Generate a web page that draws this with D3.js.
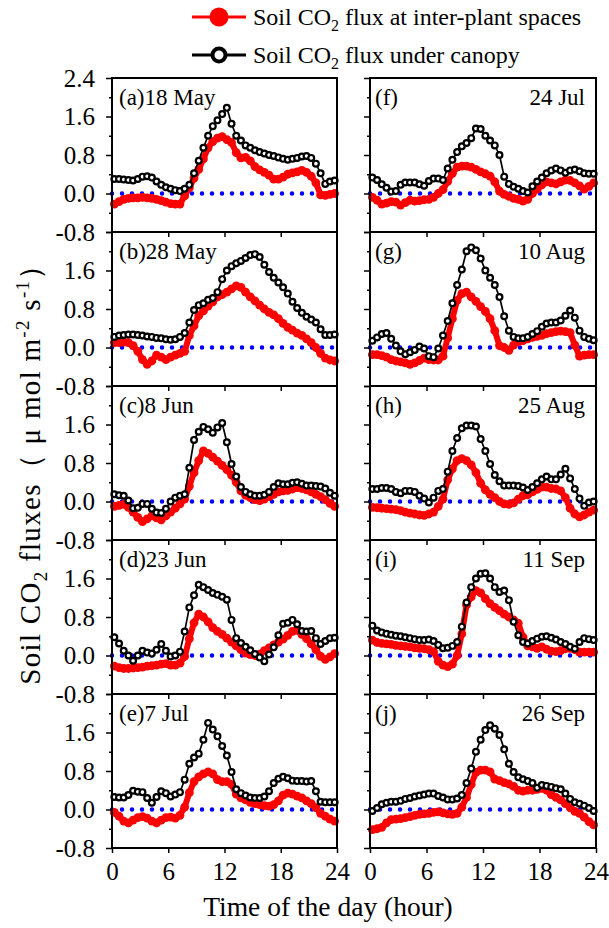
<!DOCTYPE html>
<html><head><meta charset="utf-8">
<script src="https://cdn.jsdelivr.net/npm/d3@7"></script>
<style>
body{margin:0;background:#fff}
svg{display:block}
text{font-family:"Liberation Serif","Times New Roman",serif;fill:#000}
</style>
</head><body>
<svg id="c" width="609" height="928"></svg>
<script>
// ---------- data ----------
const hours = [0.25,0.75,1.25,1.75,2.25,2.75,3.25,3.75,4.25,4.75,5.25,5.75,6.25,6.75,7.25,7.75,
  8.25,8.75,9.25,9.75,10.25,10.75,11.25,11.75,12.25,12.75,13.25,13.75,14.25,14.75,15.25,15.75,
  16.25,16.75,17.25,17.75,18.25,18.75,19.25,19.75,20.25,20.75,21.25,21.75,22.25,22.75,23.25,23.75];

const panelLetters = ["(a)","(b)","(c)","(d)","(e)","(f)","(g)","(h)","(i)","(j)"];
const panelDates = ["18 May","28 May","8 Jun","23 Jun","7 Jul","24 Jul","10 Aug","25 Aug","11 Sep","26 Sep"];
const xTickValues = [0,6,12,18,24];
const yTickValues = [-0.8,0.0,0.8,1.6,2.4];
const yMinorTicks = [-0.4,0.4,1.2,2.0];
const seriesNames = ["Soil CO2 flux at inter-plant spaces","Soil CO2 flux under canopy"];

// Soil CO2 flux at inter-plant spaces (red)
const interA = [-0.22,-0.17,-0.12,-0.10,-0.09,-0.09,-0.08,-0.09,-0.10,-0.12,-0.15,-0.18,-0.21,-0.22,-0.22,-0.05,0.12,0.32,0.50,0.72,0.95,1.08,1.15,1.18,1.12,1.06,0.85,0.74,0.75,0.68,0.56,0.49,0.44,0.38,0.30,0.30,0.34,0.40,0.43,0.45,0.48,0.44,0.36,0.22,-0.03,-0.04,-0.02,0.0];
const interB = [0.10,0.10,0.11,0.10,0.04,-0.08,-0.25,-0.35,-0.28,-0.16,-0.20,-0.25,-0.20,-0.16,-0.12,-0.08,0.25,0.45,0.66,0.76,0.86,0.95,1.05,1.10,1.15,1.22,1.28,1.25,1.15,1.05,0.97,0.88,0.80,0.73,0.68,0.60,0.50,0.42,0.36,0.30,0.25,0.18,0.10,0.0,-0.12,-0.22,-0.26,-0.28];
const interC = [-0.10,-0.08,-0.06,-0.12,-0.22,-0.33,-0.42,-0.36,-0.30,-0.34,-0.38,-0.30,-0.22,-0.14,-0.05,0.05,0.32,0.60,0.85,1.05,1.00,0.92,0.84,0.75,0.66,0.55,0.40,0.22,0.13,0.08,0.04,0.02,0.05,0.10,0.15,0.20,0.22,0.23,0.26,0.29,0.27,0.24,0.20,0.15,0.10,0.04,-0.04,-0.10];
const interD = [-0.22,-0.25,-0.27,-0.27,-0.26,-0.25,-0.24,-0.22,-0.21,-0.20,-0.18,-0.17,-0.20,-0.20,-0.16,-0.02,0.35,0.68,0.86,0.80,0.70,0.58,0.50,0.44,0.36,0.28,0.20,0.12,0.05,0.02,0.0,0.03,0.10,0.16,0.22,0.28,0.34,0.42,0.50,0.52,0.44,0.35,0.24,0.12,-0.02,-0.08,-0.03,0.04];
const interE = [-0.06,-0.14,-0.24,-0.28,-0.22,-0.17,-0.15,-0.18,-0.24,-0.28,-0.22,-0.17,-0.16,-0.18,-0.12,0.05,0.35,0.58,0.68,0.74,0.78,0.74,0.62,0.58,0.58,0.52,0.32,0.24,0.20,0.15,0.12,0.10,0.08,0.07,0.10,0.18,0.30,0.34,0.32,0.28,0.24,0.18,0.12,0.04,-0.08,-0.14,-0.20,-0.24];
const interF = [-0.08,-0.14,-0.22,-0.20,-0.17,-0.18,-0.24,-0.19,-0.14,-0.16,-0.15,-0.13,-0.12,-0.08,0.0,0.08,0.25,0.42,0.55,0.57,0.57,0.55,0.50,0.45,0.41,0.36,0.24,0.05,-0.02,-0.06,-0.10,-0.12,-0.16,-0.12,0.0,0.09,0.18,0.24,0.22,0.20,0.24,0.28,0.27,0.22,0.16,0.09,0.15,0.22];
const interG = [-0.15,-0.15,-0.17,-0.20,-0.25,-0.28,-0.30,-0.32,-0.35,-0.32,-0.27,-0.22,-0.25,-0.26,-0.26,-0.18,0.20,0.60,0.98,1.12,1.15,1.05,0.96,0.85,0.75,0.60,0.35,0.04,0.0,-0.06,0.05,0.12,0.14,0.18,0.21,0.23,0.25,0.29,0.31,0.33,0.34,0.33,0.31,0.05,-0.18,-0.16,-0.15,-0.15];
const interH = [-0.12,-0.13,-0.14,-0.15,-0.16,-0.17,-0.19,-0.22,-0.24,-0.26,-0.28,-0.29,-0.26,-0.22,-0.10,0.05,0.45,0.68,0.85,0.89,0.85,0.76,0.60,0.38,0.24,0.15,0.08,0.0,-0.05,-0.06,-0.03,0.05,0.12,0.14,0.20,0.25,0.30,0.30,0.27,0.26,0.22,0.08,-0.14,-0.26,-0.32,-0.28,-0.22,-0.18];
const interI = [0.32,0.27,0.25,0.24,0.23,0.21,0.20,0.19,0.18,0.16,0.15,0.14,0.12,0.08,-0.12,-0.20,-0.23,-0.18,0.0,0.45,1.05,1.22,1.35,1.30,1.18,1.08,1.00,0.93,0.86,0.80,0.74,0.67,0.38,0.20,0.18,0.15,0.18,0.13,0.09,0.08,0.10,0.14,0.15,0.12,0.07,0.07,0.07,0.07];
const interJ = [-0.42,-0.40,-0.37,-0.28,-0.21,-0.20,-0.19,-0.17,-0.15,-0.12,-0.10,-0.09,-0.08,-0.06,-0.05,-0.07,-0.09,-0.10,-0.08,0.05,0.25,0.52,0.77,0.82,0.82,0.78,0.63,0.60,0.56,0.53,0.48,0.40,0.38,0.40,0.40,0.42,0.44,0.40,0.31,0.25,0.20,0.12,0.04,-0.04,-0.08,-0.16,-0.25,-0.32];

// Soil CO2 flux under canopy (black open circles)
const canopyA = [0.30,0.30,0.29,0.28,0.27,0.30,0.35,0.36,0.33,0.25,0.18,0.13,0.10,0.07,0.05,0.10,0.18,0.42,0.68,0.95,1.20,1.40,1.52,1.65,1.78,1.45,1.20,1.10,1.00,0.95,0.90,0.86,0.83,0.80,0.78,0.75,0.72,0.70,0.72,0.74,0.77,0.78,0.74,0.62,0.42,0.20,0.25,0.27];
const canopyB = [0.22,0.25,0.26,0.27,0.27,0.26,0.25,0.23,0.22,0.20,0.19,0.17,0.16,0.17,0.22,0.30,0.52,0.78,0.88,0.92,0.99,1.03,1.15,1.42,1.60,1.69,1.75,1.80,1.86,1.92,1.94,1.88,1.72,1.57,1.45,1.35,1.25,1.12,0.95,0.82,0.72,0.64,0.58,0.52,0.38,0.26,0.26,0.27];
const canopyC = [0.15,0.13,0.12,0.02,-0.14,-0.13,-0.05,-0.05,-0.15,-0.23,-0.24,-0.15,0.0,0.08,0.12,0.15,0.70,1.28,1.45,1.55,1.50,1.43,1.54,1.63,1.23,0.78,0.52,0.30,0.20,0.15,0.12,0.12,0.14,0.20,0.30,0.38,0.36,0.36,0.39,0.40,0.37,0.33,0.33,0.32,0.31,0.27,0.18,0.12];
const canopyD = [0.38,0.25,0.10,0.0,-0.11,0.0,0.10,0.06,0.04,0.12,0.24,0.10,-0.02,0.0,0.08,0.50,1.00,1.25,1.47,1.42,1.36,1.30,1.26,1.22,1.16,0.74,0.36,0.26,0.18,0.11,0.03,-0.04,-0.12,0.02,0.17,0.42,0.66,0.68,0.74,0.65,0.51,0.50,0.51,0.36,0.24,0.30,0.36,0.37];
const canopyE = [0.26,0.25,0.25,0.30,0.39,0.37,0.36,0.24,0.14,0.26,0.38,0.34,0.27,0.31,0.36,0.62,0.95,1.08,1.16,1.45,1.80,1.66,1.52,1.32,1.12,0.78,0.42,0.34,0.29,0.25,0.24,0.24,0.27,0.38,0.55,0.64,0.68,0.65,0.60,0.59,0.59,0.58,0.59,0.38,0.16,0.15,0.15,0.15];
const canopyF = [0.33,0.28,0.19,0.12,0.04,0.05,0.18,0.23,0.23,0.23,0.19,0.16,0.26,0.31,0.31,0.28,0.52,0.70,0.86,0.98,1.05,1.15,1.35,1.34,1.20,1.10,1.00,0.80,0.35,0.20,0.14,0.10,0.05,0.02,0.15,0.25,0.33,0.42,0.48,0.52,0.48,0.43,0.48,0.50,0.46,0.42,0.41,0.41];
const canopyG = [0.14,0.21,0.28,0.30,0.18,0.04,-0.08,-0.14,-0.10,-0.05,0.02,-0.02,-0.18,-0.20,-0.02,0.25,0.55,0.92,1.30,1.62,2.00,2.08,2.02,1.85,1.60,1.45,1.30,1.05,0.65,0.35,0.22,0.19,0.19,0.22,0.28,0.34,0.43,0.50,0.52,0.52,0.56,0.66,0.77,0.62,0.35,0.22,0.18,0.15];
const canopyH = [0.26,0.26,0.28,0.28,0.26,0.20,0.17,0.22,0.22,0.20,0.12,0.06,-0.02,0.08,0.22,0.26,0.62,1.05,1.32,1.52,1.58,1.58,1.56,1.30,1.05,0.78,0.55,0.42,0.33,0.33,0.33,0.32,0.29,0.24,0.30,0.38,0.46,0.52,0.46,0.46,0.56,0.68,0.48,0.26,0.06,-0.09,-0.02,0.0];
const canopyI = [0.62,0.52,0.48,0.45,0.43,0.41,0.40,0.38,0.36,0.34,0.32,0.32,0.33,0.30,0.22,0.15,0.16,0.20,0.28,0.60,1.10,1.42,1.60,1.70,1.71,1.60,1.42,1.32,1.35,1.15,0.70,0.42,0.28,0.25,0.30,0.35,0.39,0.40,0.37,0.33,0.28,0.24,0.18,0.14,0.28,0.36,0.34,0.32];
const canopyJ = [-0.03,0.03,0.11,0.14,0.16,0.16,0.18,0.22,0.24,0.27,0.29,0.31,0.33,0.33,0.28,0.25,0.21,0.21,0.23,0.30,0.55,0.85,1.20,1.45,1.65,1.75,1.68,1.55,1.25,0.95,0.78,0.67,0.63,0.59,0.55,0.45,0.51,0.49,0.47,0.44,0.42,0.33,0.22,0.15,0.12,0.08,0.03,-0.03];

const interSeries = [interA,interB,interC,interD,interE,interF,interG,interH,interI,interJ];
const canopySeries = [canopyA,canopyB,canopyC,canopyD,canopyE,canopyF,canopyG,canopyH,canopyI,canopyJ];

// ---------- layout ----------
const svg = d3.select("#c");
const colX = [[112,337],[370,596]];
const top0 = 78, ph = 154;
const FONT = '"Liberation Serif","Times New Roman",serif';

panelLetters.forEach((letter, k) => {
  const col = Math.floor(k/5), row = k % 5;
  const top = top0 + row*ph;
  const x = d3.scaleLinear().domain([0,24]).range(colX[col]);
  const y = d3.scaleLinear().domain([-0.8,2.4]).range([top+ph, top]);
  const g = svg.append("g");

  // zero reference line (blue dotted)
  g.append("path")
    .attr("d", d3.line().x(d=>x(d)).y(()=>y(0))([0,24]))
    .attr("stroke","#0000ff").attr("stroke-width",4.5)
    .attr("stroke-dasharray","0,10").attr("stroke-linecap","round").attr("fill","none");

  const inter = hours.map((h,i)=>[h, interSeries[k][i]]);
  const can = hours.map((h,i)=>[h, canopySeries[k][i]]);
  const line = d3.line().x(d=>x(d[0])).y(d=>y(d[1]));

  g.append("path").attr("d", line(inter)).attr("fill","none").attr("stroke","#ff0000")
    .attr("stroke-width",6).attr("stroke-linejoin","round").attr("stroke-linecap","round");
  g.selectAll(".r").data(inter).enter().append("circle")
    .attr("cx",d=>x(d[0])).attr("cy",d=>y(d[1])).attr("r",4.4).attr("fill","#ff0000");

  g.append("path").attr("d", line(can)).attr("fill","none").attr("stroke","#000").attr("stroke-width",1.7);
  g.selectAll(".b").data(can).enter().append("circle")
    .attr("cx",d=>x(d[0])).attr("cy",d=>y(d[1])).attr("r",2.9)
    .attr("fill","#fff").attr("stroke","#000").attr("stroke-width",2.2);

  // y axis major
  const yAx = g.append("g").attr("transform",`translate(${colX[col][0]},0)`)
    .call(d3.axisLeft(y).tickValues(yTickValues).tickSize(6).tickPadding(11)
      .tickFormat(d => (col===0 && !(row>0 && d===2.4)) ? d3.format(".1f")(d).replace("−","-") : ""));
  yAx.select(".domain").remove();
  yAx.attr("font-size",25).attr("font-family",FONT);
  yAx.selectAll("line").attr("stroke-width",1.5);
  // y minor
  const yMin = g.append("g").attr("transform",`translate(${colX[col][0]},0)`)
    .call(d3.axisLeft(y).tickValues(yMinorTicks).tickSize(3).tickFormat(""));
  yMin.select(".domain").remove();
  yMin.selectAll("line").attr("stroke-width",1.5);

  // x axis
  const last = row===4;
  const xAx = g.append("g").attr("transform",`translate(0,${top+ph})`)
    .call(d3.axisBottom(x).tickValues(last ? xTickValues : xTickValues.slice(1,4)).tickSize(5)
      .tickFormat(d => last ? String(d) : ""));
  xAx.select(".domain").remove();
  xAx.attr("font-size",25).attr("font-family",FONT);
  xAx.selectAll("line").attr("stroke-width",1.5);
  xAx.selectAll("text").attr("y",32).attr("dy",0);

  // frame
  g.append("rect").attr("x",colX[col][0]).attr("y",top)
    .attr("width",colX[col][1]-colX[col][0]).attr("height",ph)
    .attr("fill","none").attr("stroke","#000").attr("stroke-width",2);

  // panel labels
  if (col===0) {
    g.append("text").attr("x",colX[col][0]+7).attr("y",top+27).attr("font-size",23)
      .text(letter + panelDates[k]);
  } else {
    g.append("text").attr("x",colX[col][0]+5).attr("y",top+27).attr("font-size",23).text(letter);
    g.append("text").attr("x",colX[col][1]-11).attr("y",top+27).attr("font-size",23)
      .attr("text-anchor","end").text(panelDates[k]);
  }
});

// ---------- legend ----------
const lg = svg.append("g");
const legendRows = [{y:17, color:"#ff0000", filled:true},{y:55, color:"#000", filled:false}];
legendRows.forEach((r,i) => {
  lg.append("line").attr("x1",192).attr("x2",246).attr("y1",r.y).attr("y2",r.y)
    .attr("stroke",r.color).attr("stroke-width",3);
  if (r.filled) lg.append("circle").attr("cx",219).attr("cy",r.y).attr("r",9.5).attr("fill",r.color);
  else lg.append("circle").attr("cx",219).attr("cy",r.y).attr("r",6.5).attr("fill","#fff")
        .attr("stroke",r.color).attr("stroke-width",4);
  const t = lg.append("text").attr("x",253).attr("y",r.y+8).attr("font-size",24);
  const parts = seriesNames[i].split("CO2");
  t.append("tspan").text(parts[0] + "CO");
  t.append("tspan").attr("font-size",16).attr("dy",6).text("2");
  t.append("tspan").attr("dy",-6).text(parts[1]);
});

// ---------- axis titles ----------
svg.append("text").attr("x",328).attr("y",916).attr("text-anchor","middle")
  .attr("font-size",27.5).text("Time of the day (hour)");

const yt = svg.append("text").attr("transform","translate(40,467) rotate(-90)")
  .attr("text-anchor","middle").attr("font-size",29).attr("letter-spacing",1.3);
yt.append("tspan").text("Soil CO");
yt.append("tspan").attr("font-size",19).attr("dy",7).text("2");
yt.append("tspan").attr("dy",-7).text(" fluxes\uFF08 \u03BC mol m");
yt.append("tspan").attr("font-size",19).attr("dy",-11).text("-2");
yt.append("tspan").attr("dy",11).text(" s");
yt.append("tspan").attr("font-size",19).attr("dy",-11).text("-1");
yt.append("tspan").attr("dy",11).text("\uFF09");
</script>
</body></html>
